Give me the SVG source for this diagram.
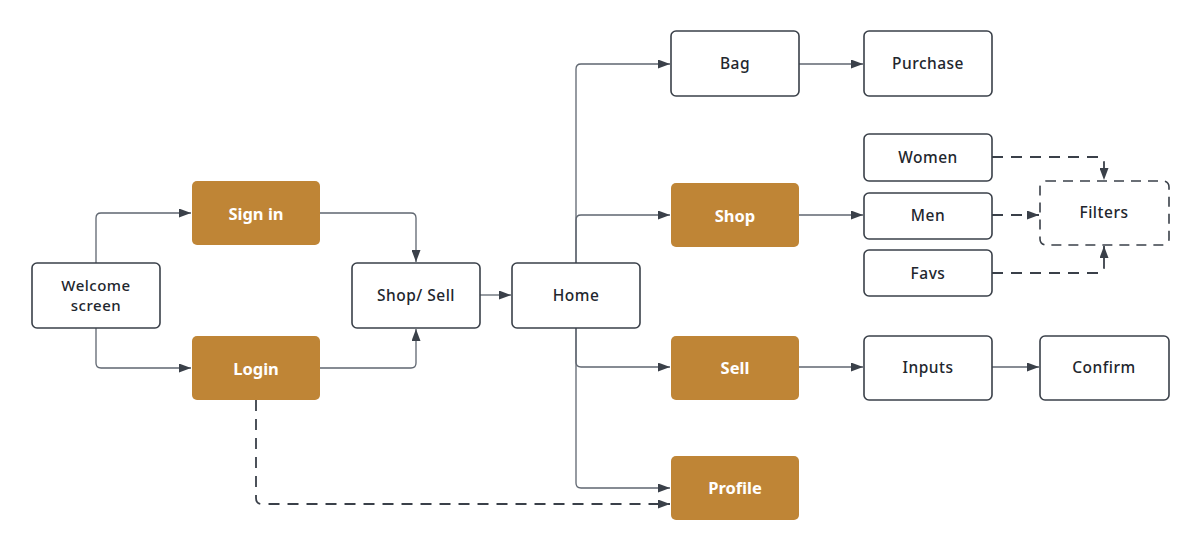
<svg xmlns="http://www.w3.org/2000/svg" width="1200" height="552" viewBox="0 0 1200 552">
<style>
.n rect{fill:#ffffff;stroke:#3a4049;stroke-width:1.6}
.o rect{fill:#bf8536;stroke:none}
.n text{fill:#22262d;font-family:"Noto Sans","Liberation Sans",sans-serif;font-size:15.5px;font-weight:500;letter-spacing:0.5px;text-anchor:middle;dominant-baseline:central}
.n text.sm{font-size:15px}
.o text{fill:#ffffff;font-family:"Noto Sans","Liberation Sans",sans-serif;font-size:16.5px;font-weight:bold;text-anchor:middle;dominant-baseline:central}
.d rect{stroke-dasharray:10 7}
.c path{fill:none;stroke:#5f6670;stroke-width:1.3}
.c path.dash{stroke:#3a4049;stroke-width:1.8;stroke-dasharray:11 8}
</style>
<defs>
<marker id="ah" viewBox="0 0 12 9" refX="12" refY="4.5" markerWidth="12" markerHeight="9" markerUnits="userSpaceOnUse" orient="auto">
<path d="M0,0 L12,4.5 L0,9 Z" fill="#3a4049"/>
</marker>
</defs>
<rect width="1200" height="552" fill="#ffffff"/>
<g class="c" id="connectors">
<path d="M96,263 V218 Q96,213 101,213 H191" marker-end="url(#ah)"/>
<path d="M96,327 V363 Q96,368 101,368 H191" marker-end="url(#ah)"/>
<path d="M319,213 H411 Q416,213 416,218 V262" marker-end="url(#ah)"/>
<path d="M319,368 H411 Q416,368 416,363 V329" marker-end="url(#ah)"/>
<path d="M479,295 H511" marker-end="url(#ah)"/>
<path d="M576,263 V69 Q576,64 581,64 H670" marker-end="url(#ah)"/>
<path d="M576,263 V220 Q576,215 581,215 H670" marker-end="url(#ah)"/>
<path d="M576,327 V362 Q576,367 581,367 H670" marker-end="url(#ah)"/>
<path d="M576,327 V483 Q576,488 581,488 H670" marker-end="url(#ah)"/>
<path class="dash" d="M256,400 V498 Q256,504 262,504 H670" marker-end="url(#ah)"/>
<path d="M799,64 H863" marker-end="url(#ah)"/>
<path d="M799,215 H863" marker-end="url(#ah)"/>
<path d="M799,367 H863" marker-end="url(#ah)"/>
<path d="M992,367 H1039" marker-end="url(#ah)"/>
<path class="dash" d="M992,157 H1098 Q1104,157 1104,163 V180" marker-end="url(#ah)"/>
<path class="dash" d="M992,215 H1039" marker-end="url(#ah)"/>
<path class="dash" d="M992,273 H1098 Q1104,273 1104,267 V246" marker-end="url(#ah)"/>
</g>
<g id="welcome" class="n"><rect x="32" y="263" width="128" height="65" rx="5"/><text class="sm" x="96" y="285">Welcome</text><text class="sm" x="96" y="305">screen</text></g>
<g id="signin" class="o"><rect x="192" y="181" width="128" height="64" rx="5"/><text x="256" y="213">Sign in</text></g>
<g id="login" class="o"><rect x="192" y="336" width="128" height="64" rx="5"/><text x="256" y="368">Login</text></g>
<g id="shopsell" class="n"><rect x="352" y="263" width="128" height="65" rx="5"/><text x="416" y="295">Shop/ Sell</text></g>
<g id="home" class="n"><rect x="512" y="263" width="128" height="65" rx="5"/><text x="576" y="295">Home</text></g>
<g id="bag" class="n"><rect x="671" y="31" width="128" height="65" rx="5"/><text x="735" y="63">Bag</text></g>
<g id="purchase" class="n"><rect x="864" y="31" width="128" height="65" rx="5"/><text x="928" y="63">Purchase</text></g>
<g id="shop" class="o"><rect x="671" y="183" width="128" height="64" rx="5"/><text x="735" y="215">Shop</text></g>
<g id="women" class="n"><rect x="864" y="134" width="128" height="47" rx="5"/><text x="928" y="157">Women</text></g>
<g id="men" class="n"><rect x="864" y="193" width="128" height="46" rx="5"/><text x="928" y="215">Men</text></g>
<g id="favs" class="n"><rect x="864" y="250" width="128" height="46" rx="5"/><text x="928" y="273">Favs</text></g>
<g id="filters" class="n d"><rect x="1040" y="181" width="129" height="64" rx="6"/><text x="1104" y="212">Filters</text></g>
<g id="sell" class="o"><rect x="671" y="336" width="128" height="64" rx="5"/><text x="735" y="367">Sell</text></g>
<g id="inputs" class="n"><rect x="864" y="336" width="128" height="64" rx="5"/><text x="928" y="367">Inputs</text></g>
<g id="confirm" class="n"><rect x="1040" y="336" width="129" height="64" rx="5"/><text x="1104" y="367">Confirm</text></g>
<g id="profile" class="o"><rect x="671" y="456" width="128" height="64" rx="5"/><text x="735" y="487">Profile</text></g>
</svg>
